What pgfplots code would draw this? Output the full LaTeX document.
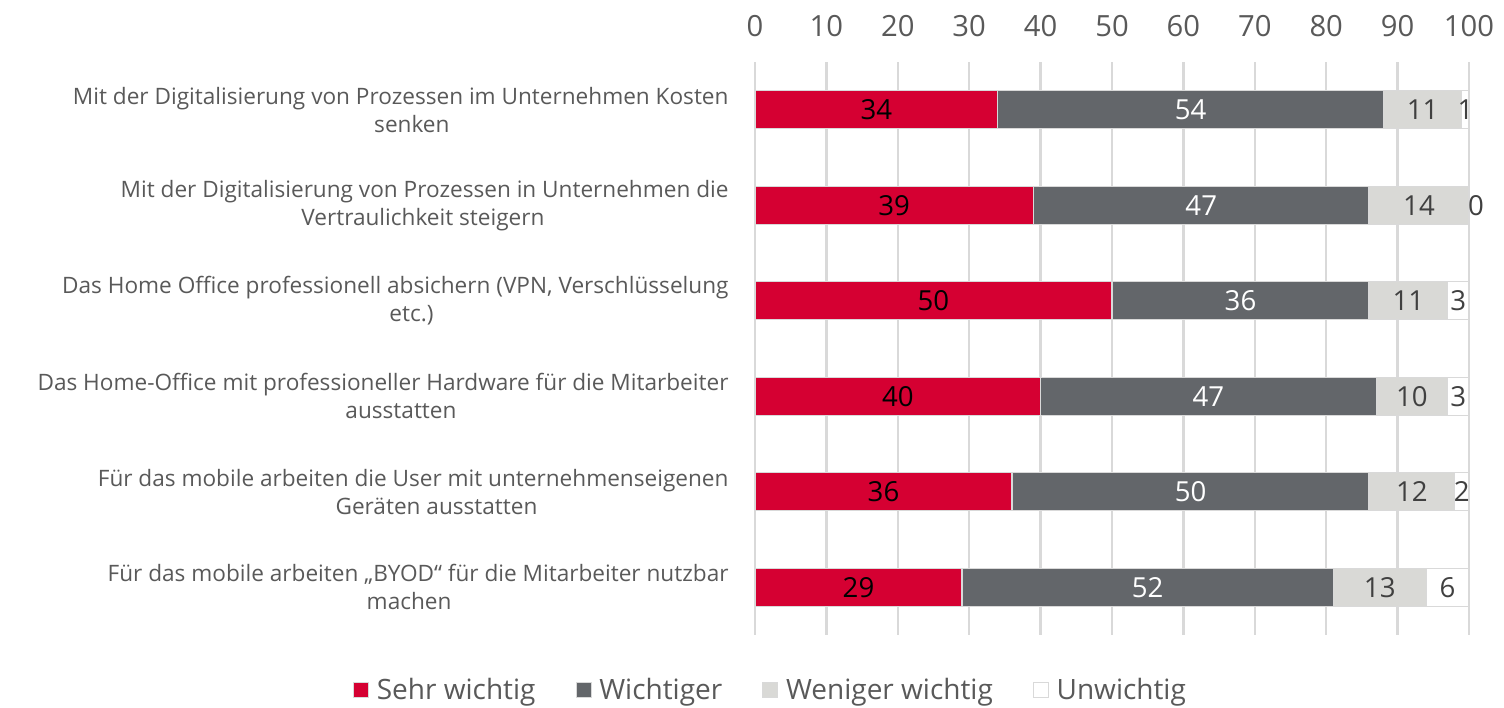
\documentclass[border=0pt]{standalone}
\usepackage{fontspec}
\setmainfont{Open Sans}
\usepackage{pgfplots}
\pgfplotsset{compat=1.18}
\definecolor{cred}{HTML}{D50032}
\definecolor{cdark}{HTML}{63666A}
\definecolor{clight}{HTML}{D9D9D6}
\definecolor{cgrid}{HTML}{D9D9D9}
\definecolor{ctext}{HTML}{595959}
\definecolor{clabel}{HTML}{404040}
\begin{document}
\begin{tikzpicture}
\path[use as bounding box] (-377.5pt,-36pt) rectangle (374.5pt,317.5pt);
\begin{axis}[
  at={(0,0)}, anchor=south west,
  scale only axis, width=357pt, height=286.5pt,
  xbar stacked, bar width=0.4,
  xmin=0, xmax=100, ymin=-0.5, ymax=5.5, y dir=reverse,
  clip=false,
  xtick={0,10,...,100}, xticklabel pos=upper,
  xticklabel style={font=\fontsize{14.6}{17}\selectfont, text=ctext, yshift=9.3pt},
  /pgf/number format/assume math mode=true,
  ytick={0,...,5},
  yticklabels={
    {Mit der Digitalisierung von Prozessen im Unternehmen Kosten\\senken\rule{139.5pt}{0pt}},
    {Mit der Digitalisierung von Prozessen in Unternehmen die\\Vertraulichkeit steigern\rule{92pt}{0pt}},
    {Das Home Office professionell absichern (VPN, Verschlüsselung\\etc.)\rule{147.5pt}{0pt}},
    {Das Home-Office mit professioneller Hardware für die Mitarbeiter\\ausstatten\rule{136pt}{0pt}},
    {Für das mobile arbeiten die User mit unternehmenseigenen\\Geräten ausstatten\rule{95.5pt}{0pt}},
    {Für das mobile arbeiten „BYOD“ für die Mitarbeiter nutzbar\\machen\rule{138.5pt}{0pt}}
  },
  yticklabel style={font=\fontsize{11.3}{14}\selectfont, align=right, text=ctext, anchor=east, xshift=-9.7pt},
  axis line style={draw=none}, major tick length=0pt,
  xmajorgrids, grid style={draw=cgrid, line width=1.2pt},
  nodes near coords, point meta=rawx,
  every node near coord/.style={anchor=center, font=\fontsize{13.8}{16}\selectfont, inner sep=0pt},
  legend columns=4,
  legend style={draw=none, fill=none, font=\fontsize{14}{16}\selectfont, text=ctext,
    at={(0.0231,-0.096)}, anchor=center,
    /tikz/every odd column/.append style={column sep=1.8pt},
    /tikz/every even column/.append style={column sep=18pt}},
  legend image code/.code={\draw[#1] (0pt,-3.75pt) rectangle (7.5pt,3.75pt);},
]
\addplot[fill=cred, draw=cgrid, line width=0.6pt, every node near coord/.append style={text=black}]
  coordinates {(34,0) (39,1) (50,2) (40,3) (36,4) (29,5)};
\addplot[fill=cdark, draw=cgrid, line width=0.6pt, every node near coord/.append style={text=white}]
  coordinates {(54,0) (47,1) (36,2) (47,3) (50,4) (52,5)};
\addplot[fill=clight, draw=cgrid, line width=0.6pt, every node near coord/.append style={text=clabel}]
  coordinates {(11,0) (14,1) (11,2) (10,3) (12,4) (13,5)};
\addplot[fill=white, draw=cgrid, line width=0.6pt, point meta=explicit symbolic,
  every node near coord/.append style={text=clabel}]
  coordinates {(1,0) [1] (0.001,1) [\hspace*{7pt}0] (3,2) [3] (3,3) [3] (2,4) [2] (6,5) [6]};
\legend{Sehr wichtig, Wichtiger, Weniger wichtig, Unwichtig}
\end{axis}
\end{tikzpicture}
\end{document}
